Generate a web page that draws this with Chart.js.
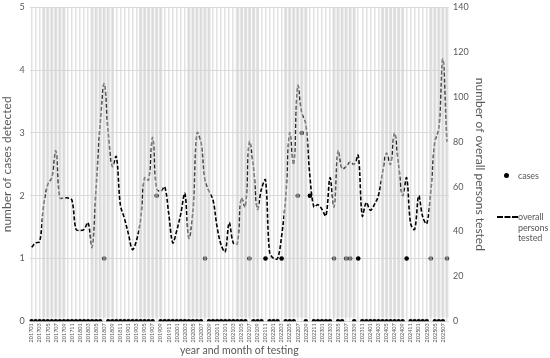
<!DOCTYPE html>
<html>
<head>
<meta charset="utf-8">
<script src="https://cdn.jsdelivr.net/npm/chart.js@4.4.1/dist/chart.umd.min.js"></script>
<style>
  html, body { margin: 0; padding: 0; background: #fff; overflow: hidden; }
  #wrap { position: relative; width: 550px; height: 358px; overflow: hidden; font-family: Lato, "Open Sans", sans-serif; color: #595959; }
  #wrap canvas { position: absolute; left: 0; top: -3px; }
  .lg { position: absolute; font-size: 9px; line-height: 10.5px; letter-spacing: -0.1px; white-space: nowrap; }
  .dot { position: absolute; width: 5px; height: 5px; border-radius: 50%; background: #000; }
  .dash { position: absolute; width: 21px; border-top: 2px dashed #000; }
</style>
</head>
<body>
<div id="wrap">
  <canvas id="chart" width="550" height="361"></canvas>
  <div class="dot" style="left:504px; top:173px;"></div>
  <div class="lg" style="left:518px; top:171px;">cases</div>
  <div class="dash" style="left:497px; top:216px;"></div>
  <div class="lg" style="left:518px; top:212px;">overall<br>persons<br>tested</div>
</div>
<script>
// mois de test, 201701 -> 202508
const months = [
  '201701','201702','201703','201704','201705','201706','201707','201708','201709','201710','201711','201712',
  '201801','201802','201803','201804','201805','201806','201807','201808','201809','201810','201811','201812',
  '201901','201902','201903','201904','201905','201906','201907','201908','201909','201910','201911','201912',
  '202001','202002','202003','202004','202005','202006','202007','202008','202009','202010','202011','202012',
  '202101','202102','202103','202104','202105','202106','202107','202108','202109','202110','202111','202112',
  '202201','202202','202203','202204','202205','202206','202207','202208','202209','202210','202211','202212',
  '202301','202302','202303','202304','202305','202306','202307','202308','202309','202310','202311','202312',
  '202401','202402','202403','202404','202405','202406','202407','202408','202409','202410','202411','202412',
  '202501','202502','202503','202504','202505','202506','202507','202508'
];

const cases = [
  0,0,0,0,0,0,0,0,0,0,0,0,
  0,0,0,0,0,0,1,0,0,0,0,0,
  0,0,0,0,0,0,0,2,0,0,0,0,
  0,0,0,0,0,0,0,1,0,0,0,0,
  0,0,0,0,0,0,1,0,0,0,1,0,
  0,0,1,0,0,0,2,3,0,2,0,0,
  0,0,0,1,0,0,1,1,0,1,0,0,
  0,0,0,0,0,0,0,0,0,1,0,0,
  0,0,0,1,0,0,0,1
];

const tested = [
  33, 35, 35.5, 52, 61, 64, 76, 55, 55, 55, 54, 41,
  40.5, 41, 44, 33, 60, 88, 106, 84, 69, 73.5, 52, 46,
  39, 32, 36, 45, 64, 63, 82, 59, 58, 60, 48, 35,
  40.5, 48, 57, 37, 49, 84, 80, 63, 58, 54, 42, 34,
  31, 44, 35, 34.5, 55, 51, 80, 69, 50, 59, 63, 31,
  28, 28, 38, 55, 84, 70, 105, 93, 88, 65, 51, 52,
  50, 47, 64, 51, 76, 68, 69, 71, 70, 74, 47, 53,
  49.5, 52, 56, 66, 75, 70, 84, 70, 56, 64, 43.5, 41,
  56, 46.5, 43.5, 58, 80, 86, 117, 80
];

// mois grisés (avril -> septembre)
const shaded = [
  0,0,0,1,1,1,1,1,1,0,0,0,
  0,0,0,1,1,1,1,1,1,0,0,0,
  0,0,0,1,1,1,1,1,1,0,0,0,
  0,0,0,1,1,1,1,1,1,0,0,0,
  0,0,0,1,1,1,1,1,1,0,0,0,
  0,0,0,1,1,1,1,1,1,0,0,0,
  0,0,0,1,1,1,1,1,1,0,0,0,
  0,0,0,1,1,1,1,1,1,0,0,0,
  0,0,0,1,1,1,1,1
];

const casesTicks = [0, 1, 2, 3, 4, 5];
const testedTicks = [0, 20, 40, 60, 80, 100, 120, 140];

const grey = '#595959';
const font = 'Lato, "Open Sans", sans-serif';

new Chart(document.getElementById('chart'), {
  data: {
    labels: months,
    datasets: [
      {
        type: 'bar',
        label: 'shade',
        data: shaded.map((s) => (s ? [0.06, 5] : null)),
        backgroundColor: 'rgba(213,213,213,0.6)',
        barPercentage: 0.82,
        categoryPercentage: 1,
        yAxisID: 'y',
        order: 0,
      },
      {
        type: 'line',
        label: 'overall persons tested',
        data: tested,
        borderColor: '#000',
        borderWidth: 1.6,
        borderDash: [4, 2],
        pointRadius: 0,
        tension: 0.35,
        yAxisID: 'y1',
        order: 1,
      },
      {
        type: 'line',
        label: 'cases',
        data: cases,
        showLine: false,
        pointRadius: 2.3,
        pointBackgroundColor: '#000',
        pointBorderWidth: 0,
        borderColor: '#000',
        yAxisID: 'y',
        order: 2,
      },
    ],
  },
  options: {
    responsive: false,
    animation: false,
    layout: { padding: { top: -7, right: 63, left: 0, bottom: 1 } },
    plugins: { legend: { display: false }, tooltip: { enabled: false } },
    scales: {
      x: {
        type: 'category',
        offset: true,
        grid: { offset: false, color: '#e2e2e2', lineWidth: 1.5, drawTicks: false },
        border: { display: false },
        ticks: {
          autoSkip: false,
          minRotation: 90,
          maxRotation: 90,
          padding: 2,
          color: grey,
          font: { family: font, size: 5.5 },
          callback: (v, i) => (i % 2 === 0 ? months[i] : ''),
        },
        title: { display: true, text: 'year and month of testing', color: grey, font: { family: font, size: 10.5 }, padding: { top: 0, bottom: 0 } },
      },
      y: {
        position: 'left',
        min: 0,
        max: 5,
        afterBuildTicks: (s) => { s.ticks = casesTicks.map((v) => ({ value: v })); },
        grid: { color: '#d9d9d9', drawTicks: false },
        border: { display: false },
        ticks: { padding: 5, color: grey, font: { family: font, size: 9 } },
        title: { display: true, text: 'number of cases detected', color: grey, font: { family: font, size: 12 }, padding: 0 },
      },
      y1: {
        position: 'right',
        min: 0,
        max: 140,
        afterBuildTicks: (s) => { s.ticks = testedTicks.map((v) => ({ value: v })); },
        grid: { display: false, drawTicks: false },
        border: { display: false },
        ticks: { padding: 4, color: grey, font: { family: font, size: 9 } },
        title: { display: true, text: 'number of overall persons tested', color: grey, font: { family: font, size: 12 }, padding: 0 },
      },
    },
  },
});
</script>
</body>
</html>
